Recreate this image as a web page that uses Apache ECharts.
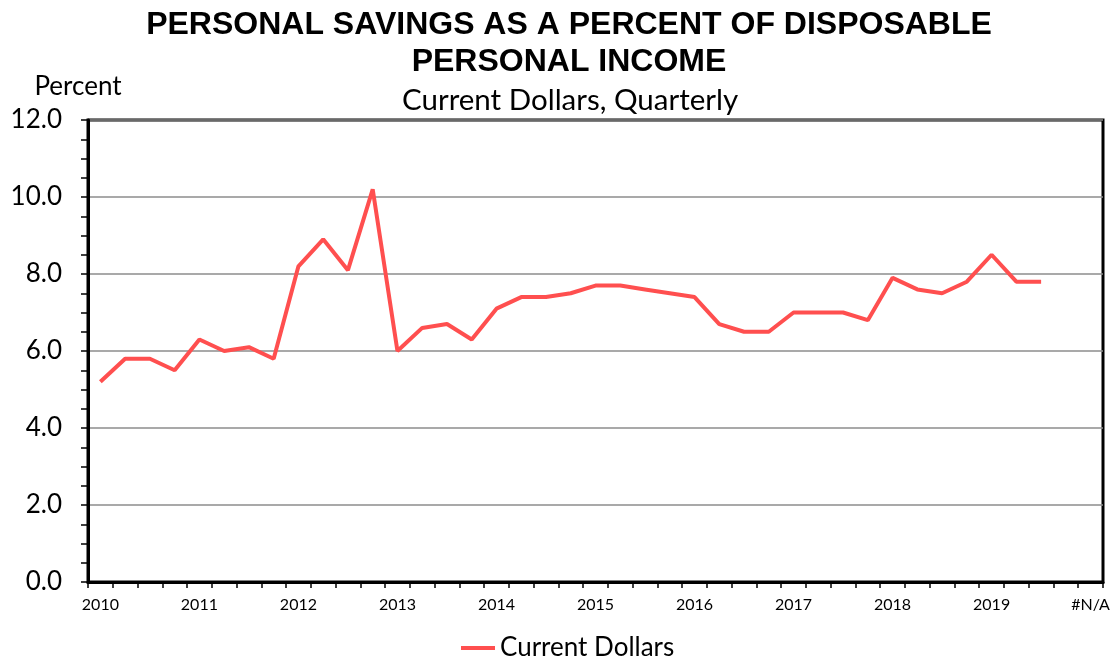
<!DOCTYPE html>
<html>
<head>
<meta charset="utf-8">
<title>Personal Savings as a Percent of Disposable Personal Income</title>
<script src="https://cdn.jsdelivr.net/npm/echarts@6/dist/echarts.min.js"></script>
<style>
  html, body { margin: 0; padding: 0; background: #fff; }
  #chart { width: 1113px; height: 658px; }
</style>
</head>
<body>
<div id="chart"></div>
<script>
// Quarterly categories: year label on Q1, blanks for Q2-Q4, plus a trailing "#N/A" slot
const years = ['2010','2011','2012','2013','2014','2015','2016','2017','2018','2019'];
const categories = [];
years.forEach(function (y) { categories.push(y, '', '', ''); });
categories.push('#N/A');

// Personal savings rate, percent of disposable personal income (quarterly)
const savingsRate = [
  5.2, 5.8, 5.8, 5.5,   // 2010
  6.3, 6.0, 6.1, 5.8,   // 2011
  8.2, 8.9, 8.1, 10.2,  // 2012
  6.0, 6.6, 6.7, 6.3,   // 2013
  7.1, 7.4, 7.4, 7.5,   // 2014
  7.7, 7.7, 7.6, 7.5,   // 2015
  7.4, 6.7, 6.5, 6.5,   // 2016
  7.0, 7.0, 7.0, 6.8,   // 2017
  7.9, 7.6, 7.5, 7.8,   // 2018
  8.5, 7.8, 7.8, null,  // 2019
  null                  // #N/A
];

const yAxisRange = { min: 0, max: 12, step: 2 };

const chart = echarts.init(document.getElementById('chart'), null, { renderer: 'canvas' });

const bodyFont = 'Lato, "Open Sans", sans-serif';

chart.setOption({
  backgroundColor: '#ffffff',
  animation: false,
  title: [
    {
      text: 'PERSONAL SAVINGS AS A PERCENT OF DISPOSABLE\nPERSONAL INCOME',
      left: 564,
      top: 2,
      textAlign: 'center',
      textStyle: {
        fontFamily: '"Liberation Sans", Arial, sans-serif',
        fontWeight: 'bold',
        fontSize: 32,
        lineHeight: 37,
        color: '#000'
      }
    },
    {
      text: 'Current Dollars, Quarterly',
      left: 397,
      top: 80,
      textStyle: {
        fontFamily: bodyFont,
        fontWeight: 'normal',
        fontSize: 29.5,
        color: '#000'
      }
    }
  ],
  legend: {
    top: 630,
    left: 456,
    icon: 'rect',
    itemWidth: 34,
    itemHeight: 4,
    itemGap: 4,
    textStyle: { fontFamily: bodyFont, fontSize: 26, color: '#000' },
    data: ['Current Dollars']
  },
  grid: {
    left: 88,
    right: 10,
    top: 120,
    bottom: 76,
    show: true,
    borderColor: '#000',
    borderWidth: 3,
    containLabel: false
  },
  xAxis: {
    type: 'category',
    data: categories,
    boundaryGap: true,
    axisLine: { show: true, lineStyle: { color: '#000', width: 3 } },
    axisTick: { show: true, interval: 0, length: 6, lineStyle: { color: '#000', width: 1.5 } },
    axisLabel: {
      interval: 0,
      margin: 15,
      fontFamily: bodyFont,
      fontSize: 16,
      color: '#000'
    },
    splitLine: { show: false }
  },
  yAxis: {
    type: 'value',
    min: yAxisRange.min,
    max: yAxisRange.max,
    interval: yAxisRange.step,
    name: 'Percent',
    nameLocation: 'end',
    nameGap: 20,
    nameTextStyle: {
      fontFamily: bodyFont,
      fontSize: 26,
      color: '#000',
      align: 'center',
      padding: [0, 0, 0, -20]
    },
    axisLine: { show: true, lineStyle: { color: '#000', width: 3 } },
    axisTick: { show: true, inside: false, length: 7, lineStyle: { color: '#000', width: 1.5 } },
    minorTick: { show: true, splitNumber: 4, length: 7, lineStyle: { color: '#000', width: 1.5 } },
    axisLabel: {
      margin: 26,
      fontFamily: bodyFont,
      fontSize: 26,
      color: '#000',
      formatter: function (v) { return v.toFixed(1); }
    },
    splitLine: { show: true, lineStyle: { color: '#8c8c8c', width: 1.5 } }
  },
  series: [
    {
      name: 'Current Dollars',
      type: 'line',
      data: savingsRate,
      symbol: 'none',
      connectNulls: false,
      lineStyle: { color: '#ff4f4f', width: 4 },
      itemStyle: { color: '#ff4f4f' }
    }
  ]
});
</script>
</body>
</html>
